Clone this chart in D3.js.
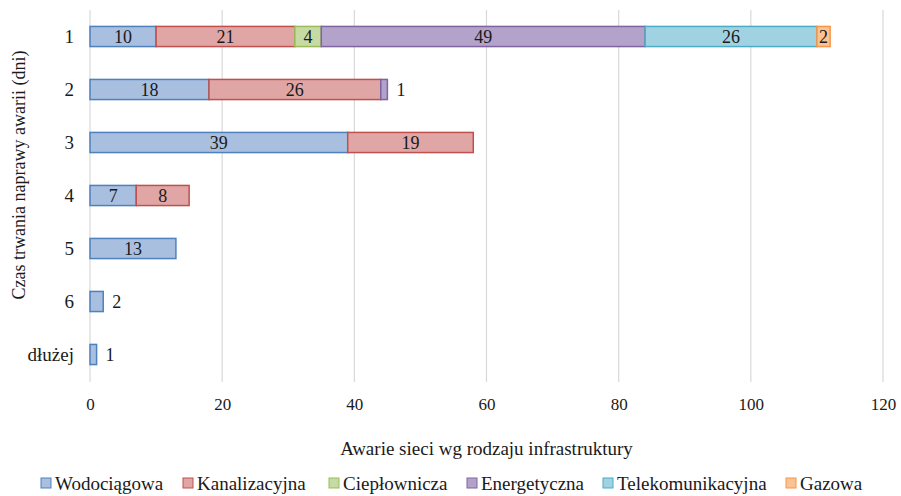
<!DOCTYPE html>
<html>
<head>
<meta charset="utf-8">
<script src="https://cdn.jsdelivr.net/npm/d3@7"></script>
</head>
<body style="margin:0; background:#fff">
<svg id="chart" width="901" height="496"></svg>
<script>
// Repair duration categories (days)
const categories = ["1", "2", "3", "4", "5", "6", "dłużej"];

// Failures by infrastructure type, one array per series
const seriesNames = ["Wodociągowa", "Kanalizacyjna", "Ciepłownicza", "Energetyczna", "Telekomunikacyjna", "Gazowa"];
const wodociagowa       = [10, 18, 39, 7, 13, 2, 1];
const kanalizacyjna     = [21, 26, 19, 8, 0, 0, 0];
const cieplownicza      = [4, 0, 0, 0, 0, 0, 0];
const energetyczna      = [49, 1, 0, 0, 0, 0, 0];
const telekomunikacyjna = [26, 0, 0, 0, 0, 0, 0];
const gazowa            = [2, 0, 0, 0, 0, 0, 0];
const seriesValues = [wodociagowa, kanalizacyjna, cieplownicza, energetyczna, telekomunikacyjna, gazowa];

const xTicks = [0, 20, 40, 60, 80, 100, 120];

// Labels drawn beside the bar end instead of inside the segment: [series, category]
const outsideLabels = [["Energetyczna", "2"], ["Wodociągowa", "6"], ["Wodociągowa", "dłużej"]];

const fills   = ["#a9bfe0", "#e0a6a5", "#c6dba3", "#b3a3ca", "#a1d2e2", "#fbc293"];
const strokes = ["#4f81bd", "#c0504d", "#9bbb59", "#8064a2", "#4bacc6", "#f79646"];

const FONT = '"Liberation Serif"';
const textColor = "#1a1a1a";

const svg = d3.select("#chart");

const x = d3.scaleLinear().domain([0, 120]).range([90, 883]);
const y = d3.scaleBand().domain(categories).range([10, 381]).paddingInner(0.62).paddingOuter(0.31);

function styleText(sel, size) {
  return sel.style("font-family", FONT).style("font-size", size + "px").attr("fill", textColor);
}

// Gridlines
svg.append("g").selectAll("line").data(xTicks).join("line")
  .attr("x1", d => x(d)).attr("x2", d => x(d))
  .attr("y1", 10).attr("y2", 382)
  .attr("stroke", "#d9d9d9").attr("stroke-width", 1.2);

// Stack the series
const rows = categories.map((c, i) => {
  const r = { cat: c };
  seriesNames.forEach((s, j) => r[s] = seriesValues[j][i]);
  return r;
});
const stacked = d3.stack().keys(seriesNames)(rows);

const gBars = svg.append("g");
stacked.forEach((layer, j) => {
  layer.forEach(seg => {
    const v = seg[1] - seg[0];
    if (v <= 0) return;
    const cat = seg.data.cat;
    gBars.append("rect")
      .attr("x", x(seg[0]))
      .attr("y", y(cat))
      .attr("width", x(seg[1]) - x(seg[0]))
      .attr("height", y.bandwidth())
      .attr("fill", fills[j])
      .attr("stroke", strokes[j])
      .attr("stroke-width", 1.5);
  });
});

// Data labels
const gLabels = svg.append("g");
stacked.forEach((layer, j) => {
  layer.forEach(seg => {
    const v = seg[1] - seg[0];
    if (v <= 0) return;
    const cat = seg.data.cat;
    const outside = outsideLabels.some(o => o[0] === layer.key && o[1] === cat);
    const cy = y(cat) + y.bandwidth() / 2;
    gLabels.append("text")
      .attr("x", outside ? x(seg[1]) + 9 : (x(seg[0]) + x(seg[1])) / 2)
      .attr("y", cy)
      .attr("dy", "0.35em")
      .attr("text-anchor", outside ? "start" : "middle")
      .call(styleText, 18)
      .text(v);
  });
});

// X axis tick labels
const xAxis = d3.axisBottom(x).tickValues(xTicks).tickSize(0).tickPadding(0);
const gx = svg.append("g").attr("transform", "translate(0,404)").call(xAxis);
gx.select(".domain").remove();
gx.selectAll("text").call(styleText, 17).attr("y", 0).attr("dy", "0.35em");

// Y axis tick labels
const yAxis = d3.axisLeft(y).tickSize(0).tickPadding(16);
const gy = svg.append("g").attr("transform", "translate(90,0)").call(yAxis);
gy.select(".domain").remove();
gy.selectAll("text").call(styleText, 19);

// Axis titles
svg.append("text")
  .attr("x", (x(0) + x(120)) / 2).attr("y", 448)
  .attr("dy", "0.35em")
  .attr("text-anchor", "middle")
  .call(styleText, 19)
  .text("Awarie sieci wg rodzaju infrastruktury");

svg.append("text")
  .attr("transform", "translate(19,175) rotate(-90)")
  .attr("dy", "0.35em")
  .attr("text-anchor", "middle")
  .call(styleText, 18)
  .text("Czas trwania naprawy awarii (dni)");

// Legend
const legendX = [41, 183, 329, 467, 603, 786];
const gLeg = svg.append("g");
seriesNames.forEach((s, j) => {
  const g = gLeg.append("g").attr("transform", `translate(${legendX[j]},483)`);
  g.append("rect").attr("x", 0).attr("y", -5).attr("width", 10).attr("height", 10)
    .attr("fill", fills[j]).attr("stroke", strokes[j]).attr("stroke-width", 1);
  g.append("text").attr("x", 14).attr("y", 0).attr("dy", "0.35em")
    .call(styleText, 19)
    .text(s);
});
</script>
</body>
</html>
